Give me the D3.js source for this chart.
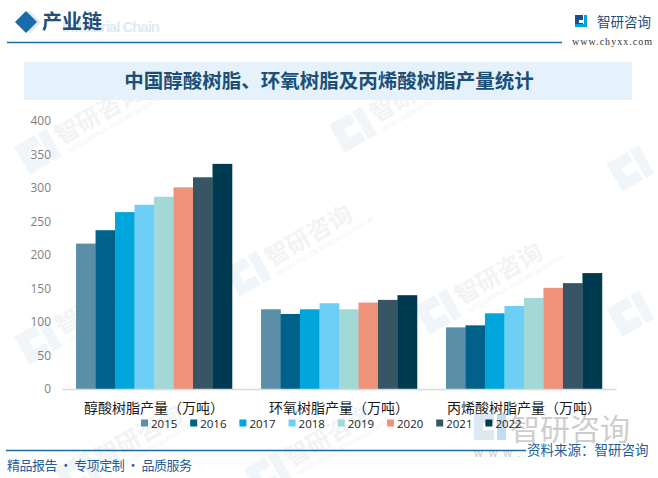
<!DOCTYPE html>
<html><head><meta charset="utf-8">
<script src="https://cdn.jsdelivr.net/npm/d3@7"></script>
<style>body{margin:0;background:#fff}svg{display:block}</style>
</head><body>
<svg id="c" width="658" height="478"></svg>
<script>
const categories = ["醇酸树脂产量（万吨）", "环氧树脂产量（万吨）", "丙烯酸树脂产量（万吨）"];
const years = ["2015","2016","2017","2018","2019","2020","2021","2022"];
const alkyd  = [217, 237, 264, 275, 287, 301, 316, 336];
const epoxy  = [119, 112, 119, 128, 119, 129, 133, 140];
const acrylic= [92, 95, 113, 124, 136, 151, 158, 173];
const yTicks = [0,50,100,150,200,250,300,350,400];
const colors = ["#5B8FA8","#00618A","#00A5DB","#6DCFF5","#A2D8D6","#EE937A","#375564","#003A50"];
const seriesByCat = [alkyd, epoxy, acrylic];

const svg = d3.select("#c");
const CJK = "'Noto Sans CJK SC','Noto Sans',sans-serif";

// faint watermarks
const wm = svg.append("g");
const wmPos = [[70,140],[385,118],[70,330],[280,262],[470,300],[110,462],[300,462]];
wmPos.forEach(([x,y])=>{
  const g = wm.append("g").attr("transform",`translate(${x},${y}) rotate(-30)`);
  g.append("text").attr("x",-10).attr("y",0).attr("font-family",CJK).attr("font-size",24).attr("font-weight","bold")
    .attr("fill","#f1f3f5").text("智研咨询");
  g.append("text").attr("x",-8).attr("y",11).attr("font-family","'Liberation Sans',sans-serif").attr("font-size",6.5)
    .attr("fill","#f1f3f5").text("INTELLIGENCE RESEARCH GROUP");
  g.append("path").attr("d","M-52,-22 h24 v11 h-13 v10 h13 v11 h-24z M-25,-22 h10 v32 h-10z")
    .attr("fill","#f0f5f9");
});
[[640,170],[640,315],[700,30]].forEach(([x,y])=>{
  wm.append("path").attr("transform",`translate(${x},${y}) rotate(-30)`)
    .attr("d","M-26,-22 h24 v11 h-13 v10 h13 v11 h-24z M1,-22 h10 v32 h-10z").attr("fill","#f0f5f9");
});

// header
svg.append("text").attr("x",62).attr("y",32).attr("font-family","'Liberation Sans',Arial,sans-serif")
  .attr("font-weight","bold").attr("font-size",15).attr("textLength",98).attr("fill","#dcebf6").text("Industrial Chain");
svg.append("path").attr("d","M30,11 L41,22 L30,33 L19,22Z").attr("fill","#dbe9f4");
svg.append("path").attr("d","M26,11 L37,22 L26,33 L15,22Z").attr("fill","#1A6CA8");
svg.append("text").attr("x",42).attr("y",29).attr("font-family",CJK).attr("font-weight","bold")
  .attr("font-size",20).attr("fill","#1F4E79").text("产业链");
svg.append("line").attr("x1",7).attr("x2",562).attr("y1",42.5).attr("y2",42.5).attr("stroke","#1A6CA0").attr("stroke-width",1.5);
// logo
const lg = svg.append("g").attr("transform","translate(575,15)");
lg.append("path").attr("d","M0,0 h8 v5 h-4 v3 h4 v4 h-8z").attr("fill","#1F4E89");
lg.append("path").attr("d","M9,0 h3 v12 h-3z M0,9 h12 v3 h-12z").attr("fill","#00A5DB");
svg.append("text").attr("x",597).attr("y",27).attr("font-family",CJK).attr("font-size",13.5)
  .attr("fill","#1F4E79").text("智研咨询");
svg.append("text").attr("x",572).attr("y",45).attr("font-family","'Liberation Serif',serif").attr("font-size",10)
  .attr("fill","#333").attr("textLength",80).text("www.chyxx.com");

// title box
svg.append("rect").attr("x",24).attr("y",62).attr("width",608).attr("height",38).attr("fill","#E5F2FB");
svg.append("text").attr("x",329).attr("y",88).attr("text-anchor","middle").attr("font-family",CJK)
  .attr("font-weight","bold").attr("font-size",19.5).attr("fill","#1B4F78").text("中国醇酸树脂、环氧树脂及丙烯酸树脂产量统计");

// scales
const x0 = d3.scaleBand().domain(categories).range([62,616]).paddingInner(0.157).paddingOuter(0.076);
const x1 = d3.scaleBand().domain(years).range([0,x0.bandwidth()]);
const y = d3.scaleLinear().domain([0,400]).range([389,121]);

// y axis
const ya = svg.append("g").attr("transform","translate(51,0)")
  .call(d3.axisLeft(y).tickValues(yTicks).tickSize(0).tickPadding(0));
ya.select(".domain").remove();
ya.selectAll("text").attr("font-family","'Open Sans','Noto Sans',sans-serif").attr("font-size",12).attr("fill","#7f7f7f");

// bars
categories.forEach((c,ci)=>{
  svg.append("g").selectAll("rect").data(years).join("rect")
    .attr("x",d=>x0(c)+x1(d)).attr("width",x1.bandwidth()+0.3)
    .attr("y",(d,i)=>y(seriesByCat[ci][i])).attr("height",(d,i)=>y(0)-y(seriesByCat[ci][i]))
    .attr("fill",(d,i)=>colors[i]);
});

// x axis
const xa = svg.append("g").attr("transform","translate(0,389)").call(d3.axisBottom(x0).tickSize(0).tickPadding(14));
xa.select(".domain").attr("stroke","#d9d9d9").attr("stroke-width",1.5);
xa.selectAll("text").attr("font-family",CJK).attr("font-size",14).attr("fill","#1a1a1a");

// big watermark bottom right
svg.append("path").attr("d","M474,414 h20 v9 h-11 v7 h11 v10 h-20z").attr("fill","#d5e3ee").attr("opacity",0.8);
svg.append("path").attr("d","M497,414 h9 v26 h-9z").attr("fill","#9cc6e3").attr("opacity",0.6);
svg.append("text").attr("x",510).attr("y",440).attr("font-family",CJK).attr("font-size",30)
  .attr("fill","#bdbdbd").attr("opacity",0.75).text("智研咨询");
svg.append("text").attr("x",474).attr("y",457).attr("font-family","'Liberation Sans',sans-serif").attr("font-size",12)
  .attr("fill","#c8c8c8").attr("letter-spacing",6).text("www.");

// legend
const leg = svg.append("g");
years.forEach((yr,i)=>{
  const lx = 141 + i*49.2;
  leg.append("rect").attr("x",lx).attr("y",419.5).attr("width",7).attr("height",7).attr("fill",colors[i]);
  leg.append("text").attr("x",lx+10).attr("y",427.5).attr("font-family","'Open Sans','Noto Sans',sans-serif")
    .attr("font-size",11.5).attr("fill","#222").text(yr);
});

// footer
svg.append("line").attr("x1",6).attr("x2",526).attr("y1",450.5).attr("y2",450.5).attr("stroke","#1A6CA0").attr("stroke-width",1.5);
svg.append("text").attr("x",7).attr("y",470).attr("font-family",CJK).attr("font-size",13)
  .attr("textLength",185).attr("fill","#1F5C99").text("精品报告 · 专项定制 · 品质服务");
svg.append("text").attr("x",527).attr("y",455).attr("font-family",CJK).attr("font-size",13.5)
  .attr("fill","#1F5C99").text("资料来源：智研咨询");
</script>
</body></html>
